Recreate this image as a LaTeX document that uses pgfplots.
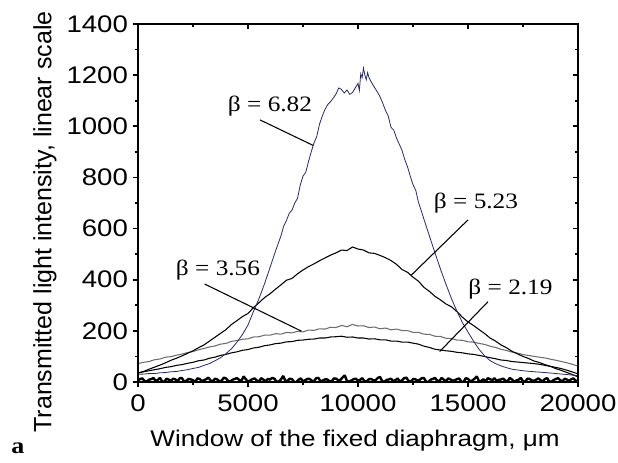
\documentclass[border=0pt]{standalone}
\usepackage{fontspec}
\setmainfont{Liberation Sans}[FakeStretch=1.15]
\newfontfamily\plainsans{Liberation Sans}
\newfontfamily\serifst{Liberation Serif}[FakeStretch=1.15]
\usepackage{pgfplots}
\pgfplotsset{compat=1.18}
\definecolor{navy}{RGB}{40,42,95}
\definecolor{graycurve}{RGB}{110,110,110}
\begin{document}
\begin{tikzpicture}
\useasboundingbox (-103.5pt,-60.75pt) rectangle (360pt,286.5pt);
\begin{axis}[
  at={(0,0)}, anchor=south west,
  scale only axis, width=330pt, height=268.5pt,
  xmin=0, xmax=20000, ymin=0, ymax=1400,
  xtick={0,5000,10000,15000,20000},
  ytick={0,200,400,600,800,1000,1200,1400},
  minor x tick num=1, minor y tick num=1,
  xtick pos=lower, ytick pos=lower,
  tick align=outside,
  major tick length=4pt, minor tick length=2.5pt,
  axis line style={line width=1.4pt},
  every tick/.style={line width=1.3pt, black},
  scaled x ticks=false, scaled y ticks=false,
  /pgf/number format/1000 sep={},
  /pgf/number format/assume math mode=true,
  tick label style={font=\fontsize{18}{20}\selectfont},
  xticklabel style={yshift=-2pt},
]
% baseline noise
\addplot[black, line width=1.8pt, line join=bevel] coordinates {
(0,6)(100,12)(200,14)(300,3)(400,2)(500,9)(600,11)(700,16)(800,4)(900,8)(1000,16)(1100,2)(1200,1)(1300,13)(1400,9)(1500,5)(1600,13)(1700,10)(1800,3)(1900,15)(2000,15)(2100,1)(2200,5)(2300,12)(2400,10)(2500,7)(2600,0)(2700,14)(2800,12)(2900,4)(3000,7)(3100,11)(3200,17)(3300,6)(3400,3)(3500,13)(3600,10)(3700,2)(3800,5)(3900,17)(4000,14)(4100,4)(4200,2)(4300,9)(4400,12)(4500,15)(4600,8)(4700,3)(4800,22)(4900,11)(5000,1)(5100,6)(5200,11)(5300,14)(5400,6)(5500,2)(5600,15)(5700,9)(5800,3)(5900,12)(6000,9)(6100,16)(6200,13)(6300,1)(6400,2)(6500,10)(6600,24)(6700,4)(6800,5)(6900,13)(7000,11)(7100,0)(7200,0)(7300,9)(7400,14)(7500,3)(7600,7)(7700,12)(7800,12)(7900,5)(8000,3)(8100,15)(8200,16)(8300,2)(8400,6)(8500,10)(8600,10)(8700,4)(8800,1)(8900,14)(9000,13)(9100,7)(9200,8)(9300,18)(9400,26)(9500,3)(9600,2)(9700,6)(9800,11)(9900,13)(10000,5)(10100,9)(10200,15)(10300,2)(10400,3)(10500,11)(10600,12)(10700,6)(10800,7)(10900,16)(11000,20)(11100,3)(11200,1)(11300,8)(11400,10)(11500,13)(11600,4)(11700,7)(11800,14)(11900,2)(12000,6)(12100,15)(12200,17)(12300,4)(12400,2)(12500,11)(12600,11)(12700,5)(12800,8)(12900,15)(13000,15)(13100,1)(13200,0)(13300,9)(13400,12)(13500,16)(13600,5)(13700,4)(13800,16)(13900,9)(14000,3)(14100,14)(14200,10)(14300,5)(14400,7)(14500,11)(14600,14)(14700,1)(14800,1)(14900,15)(15000,12)(15100,3)(15200,6)(15300,13)(15400,22)(15500,3)(15600,4)(15700,11)(15800,2)(15900,15)(16000,11)(16100,7)(16200,15)(16300,4)(16400,8)(16500,10)(16600,13)(16700,5)(16800,3)(16900,16)(17000,10)(17100,1)(17200,6)(17300,9)(17400,16)(17500,3)(17600,1)(17700,13)(17800,12)(17900,6)(18000,5)(18100,9)(18200,14)(18300,7)(18400,3)(18500,12)(18600,15)(18700,1)(18800,2)(18900,8)(19000,12)(19100,15)(19200,6)(19300,4)(19400,13)(19500,9)(19600,4)(19700,11)(19800,14)(19900,3)(20000,7)
};
% beta = 3.56 (gray)
\addplot[graycurve, line width=0.8pt] coordinates {
(0,72)(250,77)(500,80)(750,87)(1000,90)(1250,97)(1500,99)(1750,105)(2000,109)(2250,115)(2500,119)(2750,126)(3000,131)(3250,137)(3500,141)(3750,148)(4000,151)(4250,159)(4500,162)(4750,167)(5000,169)(5250,176)(5500,177)(5750,183)(6000,183)(6250,189)(6500,187)(6750,194)(7000,192)(7250,198)(7500,196)(7750,203)(8000,202)(8250,208)(8500,207)(8750,214)(9000,213)(9250,221)(9500,216)(9750,225)(10000,219)(10250,220)(10500,213)(10750,215)(11000,208)(11250,211)(11500,204)(11750,207)(12000,201)(12250,201)(12500,194)(12750,194)(13000,187)(13250,186)(13500,179)(13750,178)(14000,171)(14250,170)(14500,164)(14750,163)(15000,157)(15250,156)(15500,151)(15750,147)(16000,140)(16250,135)(16500,128)(16750,123)(17000,117)(17250,113)(17500,107)(17750,104)(18000,100)(18250,97)(18500,94)(18750,89)(19000,85)(19250,80)(19500,75)(19750,69)(20000,62)
};
% beta = 2.19 (black)
\addplot[black, line width=0.8pt] coordinates {
(0,35)(250,40)(500,44)(750,48)(1000,52)(1250,57)(1500,60)(1750,65)(2000,68)(2250,73)(2500,77)(2750,83)(3000,86)(3250,93)(3500,97)(3750,104)(4000,108)(4250,114)(4500,118)(4750,124)(5000,127)(5250,133)(5500,136)(5750,142)(6000,145)(6250,150)(6500,152)(6750,157)(7000,158)(7250,163)(7500,164)(7750,167)(8000,168)(8250,172)(8500,172)(8750,176)(9000,177)(9250,179)(9500,175)(9750,176)(10000,172)(10250,172)(10500,168)(10750,169)(11000,165)(11250,165)(11500,160)(11750,160)(12000,156)(12250,156)(12500,152)(12750,148)(13000,140)(13250,135)(13500,128)(13750,125)(14000,122)(14250,120)(14500,116)(14750,114)(15000,110)(15250,108)(15500,104)(15750,100)(16000,95)(16250,91)(16500,86)(16750,84)(17000,80)(17250,78)(17500,76)(17750,74)(18000,72)(18250,69)(18500,65)(18750,61)(19000,57)(19250,52)(19500,46)(19750,39)(20000,32)
};
% beta = 5.23 (black)
\addplot[black, line width=0.8pt] coordinates {
(0,35)(250,41)(500,50)(750,58)(1000,66)(1250,75)(1500,85)(1750,93)(2000,102)(2250,112)(2500,122)(2750,134)(3000,145)(3250,160)(3500,175)(3750,190)(4000,205)(4250,225)(4500,240)(4750,256)(5000,268)(5250,291)(5500,310)(5750,330)(6000,345)(6250,363)(6500,380)(6750,398)(7000,405)(7250,423)(7500,438)(7750,451)(8000,462)(8250,474)(8500,485)(8750,496)(9000,505)(9250,516)(9500,514)(9750,528)(10000,520)(10250,516)(10500,505)(10750,503)(11000,495)(11250,486)(11500,475)(11750,460)(12000,440)(12250,429)(12500,410)(12750,394)(13000,370)(13250,354)(13500,335)(13750,321)(14000,305)(14250,294)(14500,275)(14750,253)(15000,235)(15250,221)(15500,205)(15750,190)(16000,172)(16250,160)(16500,145)(16750,134)(17000,120)(17250,110)(17500,100)(17750,92)(18000,82)(18250,76)(18500,68)(18750,61)(19000,52)(19250,45)(19500,37)(19750,29)(20000,20)
};
% beta = 6.82 (navy)
\addplot[navy, line width=0.6pt] coordinates {
(0,30)(250,31)(500,33)(750,33)(1000,36)(1250,37)(1500,40)(1750,41)(2000,45)(2250,48)(2500,53)(2750,57)(3000,65)(3250,72)(3500,83)(3750,95)(4000,111)(4250,130)(4500,156)(4750,186)(5000,223)(5250,276)(5500,326)(5750,384)(6000,447)(6250,512)(6500,572)(6625,610)(6750,632)(6875,660)(7000,672)(7125,700)(7250,718)(7375,770)(7500,805)(7625,820)(7750,862)(7875,900)(8000,935)(8125,960)(8250,1008)(8375,1040)(8500,1066)(8625,1085)(8750,1096)(8875,1110)(9000,1126)(9125,1150)(9250,1144)(9375,1130)(9500,1142)(9625,1125)(9750,1132)(9875,1150)(10000,1168)(10062,1140)(10125,1205)(10187,1190)(10250,1228)(10312,1200)(10375,1182)(10437,1210)(10500,1190)(10625,1170)(10750,1152)(10875,1135)(11000,1116)(11125,1090)(11250,1062)(11375,1040)(11500,996)(11625,985)(11750,954)(11875,930)(12000,906)(12125,870)(12250,842)(12375,805)(12500,772)(12625,750)(12750,702)(12875,670)(13000,636)(13250,570)(13500,505)(13750,441)(14000,382)(14250,326)(14500,276)(14750,232)(15000,195)(15250,160)(15500,128)(15750,103)(16000,84)(16250,72)(16500,63)(16750,56)(17000,50)(17500,44)(18000,40)(18500,37)(19000,33)(19500,29)(20000,25)
};
% annotations
\draw[black, line width=0.8pt] (axis cs:5545,1025) -- (axis cs:7965,925);
\draw[black, line width=0.8pt] (axis cs:15000,634) -- (axis cs:12425,418);
\draw[black, line width=0.8pt] (axis cs:15910,314) -- (axis cs:13712,119);
\draw[black, line width=0.8pt] (axis cs:3030,383) -- (axis cs:7424,199);
\node[font=\serifst\fontsize{16.5}{18}\selectfont] at (axis cs:6000,1079) {β = 6.82};
\node[font=\serifst\fontsize{16.5}{18}\selectfont] at (axis cs:15364,700) {β = 5.23};
\node[font=\serifst\fontsize{16.5}{18}\selectfont] at (axis cs:16932,364) {β = 2.19};
\node[font=\serifst\fontsize{16.5}{18}\selectfont] at (axis cs:3636,438) {β = 3.56};
\end{axis}
\begin{axis}[
  at={(0,0)}, anchor=south west,
  scale only axis, width=330pt, height=268.5pt,
  xmin=0, xmax=20000, ymin=0, ymax=1400,
  xtick={0,5000,10000,15000,20000},
  ytick={0,200,400,600,800,1000,1200,1400},
  minor x tick num=1, minor y tick num=1,
  xtick pos=upper, ytick pos=upper,
  tick align=inside,
  major tick length=4pt, minor tick length=2.5pt,
  axis line style={line width=1.4pt},
  every tick/.style={line width=1.3pt, black},
  scaled x ticks=false, scaled y ticks=false,
  xticklabels={}, yticklabels={},
]
\end{axis}
% axis labels
\node[anchor=base, font=\fontsize{17}{19}\selectfont] at (162.75pt,-48.75pt) {Window of the fixed diaphragm, μm};
\node[rotate=90, font=\plainsans\fontsize{18.75}{20}\selectfont] at (-69.75pt,120pt) {Transmitted light intensity, linear scale};
\node[font=\serifst\bfseries\fontsize{17}{19}\selectfont] at (-90pt,-50pt) {a};
\end{tikzpicture}
\end{document}
